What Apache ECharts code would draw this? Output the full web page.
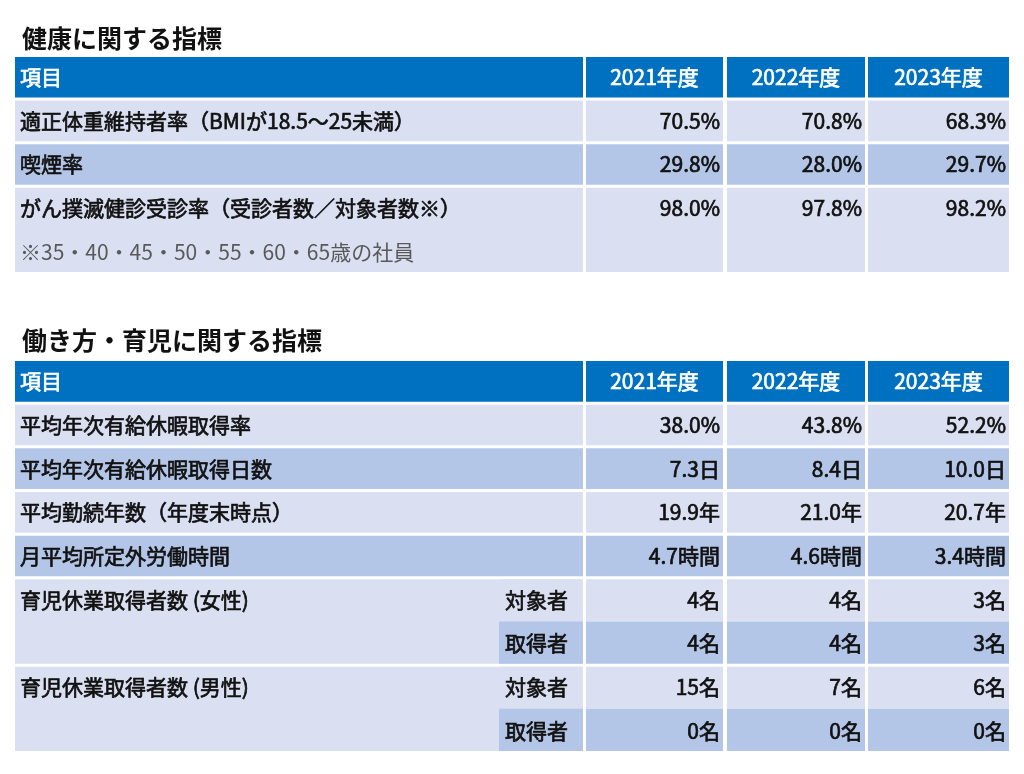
<!DOCTYPE html>
<html lang="ja">
<head>
  <meta charset="UTF-8">
  <title>健康・働き方の指標</title>
  <script src="https://cdn.jsdelivr.net/npm/echarts@6.0.0/dist/echarts.min.js"></script>
  <style>
    html, body { margin: 0; padding: 0; background: #fff; }
    #main { width: 1024px; height: 774px; }
  </style>
</head>
<body>
<div id="main"></div>
<script>
  // ---- data ----
  var years = ['2021年度', '2022年度', '2023年度'];
  var headItem = '項目';

  var healthItems = ['適正体重維持者率（BMIが18.5～25未満）', '喫煙率', 'がん撲滅健診受診率（受診者数／対象者数※）'];
  var healthValues = [
    [70.5, 70.8, 68.3],
    [29.8, 28.0, 29.7],
    [98.0, 97.8, 98.2]
  ];
  var healthNote = '※35・40・45・50・55・60・65歳の社員';

  var workItems = ['平均年次有給休暇取得率', '平均年次有給休暇取得日数', '平均勤続年数（年度末時点）', '月平均所定外労働時間'];
  var workValues = [
    [38.0, 43.8, 52.2],
    [7.3, 8.4, 10.0],
    [19.9, 21.0, 20.7],
    [4.7, 4.6, 3.4]
  ];
  var workUnits = ['%', '日', '年', '時間'];

  var leaveItems = ['育児休業取得者数 (女性)', '育児休業取得者数 (男性)'];
  var leaveSub = ['対象者', '取得者'];
  var leaveFemale = [[4, 4, 3], [4, 4, 3]];
  var leaveMale = [[15, 7, 6], [0, 0, 0]];

  // ---- layout / style ----
  var BLUE = '#0070c0', LIGHT = '#dae0f1', DARK = '#b4c6e7';
  var FONT = "'Noto Sans CJK JP', 'Noto Sans', sans-serif";
  var COL_ITEM = [0, 568], COL_SUB = [484, 568];
  var COL_YEAR = [[571, 708], [712, 850], [853, 994]];

  function cell(list, col, row, span, fill, text, opt) {
    opt = opt || {};
    list.push({
      value: [col[0], col[1], row, span],
      fill: fill, text: text,
      align: opt.align || 'left',
      pad: opt.pad === undefined ? 5 : opt.pad,
      color: opt.color || '#111',
      stroke: opt.stroke === undefined ? 0.7 : opt.stroke,
      gapTop: opt.gapTop === undefined ? 1.5 : opt.gapTop,
      gapBottom: opt.gapBottom === undefined ? 1.5 : opt.gapBottom
    });
  }

  function header(list) {
    cell(list, COL_ITEM, 0, 1, BLUE, headItem, {color: '#fff'});
    years.forEach(function (y, i) {
      cell(list, COL_YEAR[i], 0, 1, BLUE, y, {color: '#fff', align: 'center'});
    });
  }

  // table 1
  var cells1 = [];
  header(cells1);
  healthItems.forEach(function (name, r) {
    var fill = r % 2 === 0 ? LIGHT : DARK;
    var span = r === healthItems.length - 1 ? 2 : 1;
    cell(cells1, COL_ITEM, r + 1, span, fill, name);
    healthValues[r].forEach(function (v, i) {
      cell(cells1, COL_YEAR[i], r + 1, span, fill, v.toFixed(1) + '%', {align: 'right', pad: 3});
    });
  });
  cell(cells1, COL_ITEM, 4, 1, null, healthNote, {color: '#595959', stroke: 0, gapTop: 0, gapBottom: 0});

  // table 2
  var cells2 = [];
  header(cells2);
  workItems.forEach(function (name, r) {
    var fill = r % 2 === 0 ? LIGHT : DARK;
    cell(cells2, COL_ITEM, r + 1, 1, fill, name);
    workValues[r].forEach(function (v, i) {
      cell(cells2, COL_YEAR[i], r + 1, 1, fill, v.toFixed(1) + workUnits[r], {align: 'right', pad: 3});
    });
  });
  [leaveFemale, leaveMale].forEach(function (vals, k) {
    var row = workItems.length + 1 + k * 2;
    cell(cells2, COL_ITEM, row, 2, LIGHT, leaveItems[k]);
    leaveSub.forEach(function (sub, s) {
      var fill = s === 0 ? LIGHT : DARK;
      var g = s === 0 ? {gapBottom: 0} : {gapTop: 0};
      cell(cells2, COL_SUB, row + s, 1, fill, sub, Object.assign({pad: 6}, g));
      vals[s].forEach(function (v, i) {
        cell(cells2, COL_YEAR[i], row + s, 1, fill, v + '名', Object.assign({align: 'right', pad: 3}, g));
      });
    });
  });

  function rowIds(n) {
    var a = [];
    for (var i = 0; i < n; i++) a.push('r' + i);
    return a;
  }

  function makeRender(cells) {
    return function (params, api) {
      var c = cells[params.dataIndex];
      var bandH = api.size([0, 1])[1];
      var p0 = api.coord([api.value(0), api.value(2)]);
      var p1 = api.coord([api.value(1), api.value(2)]);
      var top = p0[1] - bandH / 2;
      var bottom = top + bandH * api.value(3);
      var children = [];
      if (c.fill) {
        children.push({
          type: 'rect',
          shape: {x: p0[0], y: top + c.gapTop, width: p1[0] - p0[0], height: bottom - top - c.gapTop - c.gapBottom},
          style: {fill: c.fill}
        });
      }
      var tx = c.align === 'left' ? p0[0] + c.pad : c.align === 'right' ? p1[0] - c.pad : (p0[0] + p1[0]) / 2;
      var style = {
        text: c.text, fill: c.color, align: c.align, verticalAlign: 'middle',
        fontSize: 21, fontWeight: 'normal', fontFamily: FONT
      };
      if (c.stroke) {
        style.stroke = c.color;
        style.lineWidth = c.stroke;
      }
      children.push({type: 'text', x: tx, y: p0[1], style: style});
      return {type: 'group', children: children};
    };
  }

  var chart = echarts.init(document.getElementById('main'));
  chart.setOption({
    animation: false,
    title: [
      {text: '健康に関する指標', left: 17, top: 21,
        textStyle: {fontSize: 25, fontWeight: 'bold', color: '#111', fontFamily: FONT}},
      {text: '働き方・育児に関する指標', left: 17, top: 323,
        textStyle: {fontSize: 25, fontWeight: 'bold', color: '#111', fontFamily: FONT}}
    ],
    grid: [
      {left: 15, width: 994, top: 55.5, height: 218},
      {left: 15, width: 994, top: 359.5, height: 393}
    ],
    xAxis: [
      {gridIndex: 0, type: 'value', min: 0, max: 994, show: false},
      {gridIndex: 1, type: 'value', min: 0, max: 994, show: false}
    ],
    yAxis: [
      {gridIndex: 0, type: 'category', data: rowIds(5), inverse: true, show: false},
      {gridIndex: 1, type: 'category', data: rowIds(9), inverse: true, show: false}
    ],
    series: [
      {type: 'custom', xAxisIndex: 0, yAxisIndex: 0, clip: false, silent: true,
        encode: {x: [0, 1], y: 2}, renderItem: makeRender(cells1), data: cells1.map(function (c) { return c.value; })},
      {type: 'custom', xAxisIndex: 1, yAxisIndex: 1, clip: false, silent: true,
        encode: {x: [0, 1], y: 2}, renderItem: makeRender(cells2), data: cells2.map(function (c) { return c.value; })}
    ]
  });
</script>
</body>
</html>
